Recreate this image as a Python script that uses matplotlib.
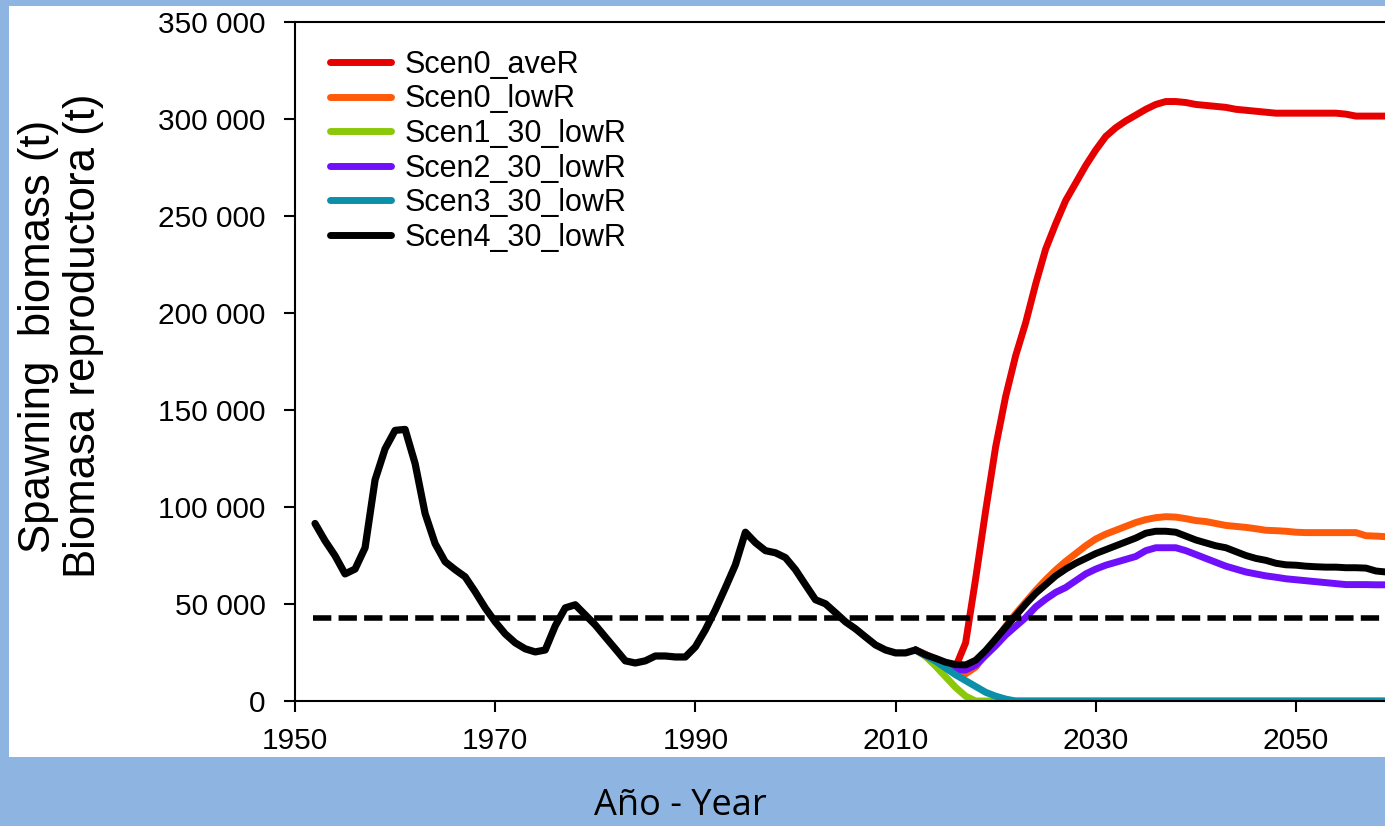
import matplotlib
matplotlib.use("Agg")
import matplotlib.pyplot as plt
from matplotlib.patches import Rectangle
from matplotlib.ticker import FuncFormatter

# historical spawning biomass (t), 1952-2012
hist_years = list(range(1952, 2013))
hist_ssb = [91500, 82600, 74900, 65500, 68000, 79000, 114000, 130000, 139500, 140000,
            122400, 96600, 81100, 71800, 67700, 64000, 56300, 48000, 40800, 34600,
            30000, 26900, 25300, 26300, 38700, 48000, 49600, 44400, 39200, 33000,
            26900, 20700, 19600, 20700, 23200, 23200, 22700, 22700, 27900, 36700,
            47000, 58400, 70200, 87000, 81600, 77500, 76400, 73900, 67700, 59900,
            52200, 50100, 45500, 40800, 37200, 33000, 28900, 26300, 24800, 24800,
            26300]

# projections 2013-2059
proj_years = list(range(2013, 2060))
scen0_aveR = [24000, 21500, 19000, 17500, 30000, 63000, 98000, 131000, 157000, 178000,
              195000, 215000, 233000, 246000, 258000, 267000, 276000, 284000, 291000, 295500,
              299000, 302000, 305000, 307500, 309000, 309000, 308500, 307500, 307000, 306500,
              306000, 305000, 304500, 304000, 303500, 303000, 303000, 303000, 303000, 303000,
              303000, 303000, 302500, 301500, 301500, 301500, 301500]
scen0_lowR = [24000, 21000, 18000, 15500, 14000, 17500, 24000, 31500, 38500, 45000,
              51000, 57000, 62500, 67500, 72000, 76000, 80000, 83500, 86000, 88000,
              90000, 92000, 93500, 94500, 95000, 94800, 94000, 93000, 92500, 91500,
              90500, 90000, 89500, 88800, 88000, 87800, 87500, 87000, 86800, 86800,
              86800, 86800, 86800, 86800, 85200, 85000, 84700]
scen1_30_lowR = [23000, 18000, 12500, 7000, 2500] + [0] * 42
scen2_30_lowR = [23500, 21000, 18000, 16000, 16000, 18500, 23500, 28500, 34000, 38500,
                 43000, 48500, 52500, 56000, 58500, 62000, 65500, 68000, 70000, 71500,
                 73000, 74500, 77500, 79000, 79000, 79000, 77500, 75500, 73500, 71500,
                 69500, 68000, 66500, 65500, 64500, 63800, 63000, 62500, 62000, 61500,
                 61000, 60500, 60000, 60000, 60000, 59900, 59900]
scen3_30_lowR = [23500, 20500, 17000, 13500, 10500, 7500, 4500, 2500, 1000] + [0] * 38
scen4_30_lowR = [23800, 22000, 20000, 18800, 18600, 21000, 26000, 32000, 38000, 44000,
                 50000, 55500, 60000, 64500, 68000, 71000, 73500, 76000, 78000, 80000,
                 82000, 84000, 86500, 87500, 87500, 87000, 85000, 83000, 81500, 80000,
                 79000, 77000, 75000, 73500, 72500, 71000, 70200, 70000, 69500, 69200,
                 69000, 69000, 68700, 68700, 68500, 67000, 66500]

scen_names = ["Scen0_aveR", "Scen0_lowR", "Scen1_30_lowR",
              "Scen2_30_lowR", "Scen3_30_lowR", "Scen4_30_lowR"]
scen_data = [scen0_aveR, scen0_lowR, scen1_30_lowR,
             scen2_30_lowR, scen3_30_lowR, scen4_30_lowR]
scen_colors = ["#e60000", "#ff5a0a", "#8cc80a", "#7010fa", "#0c8fa8", "black"]

blim = 43000

plt.rcParams["font.family"] = ["Liberation Sans", "DejaVu Sans"]

fig = plt.figure(figsize=(13.85, 8.26), dpi=100, facecolor="#8eb4e2")
fig.add_artist(Rectangle((9 / 1385, 1 - 757 / 826), 1.0, 751 / 826,
                         transform=fig.transFigure, facecolor="white",
                         edgecolor="none", zorder=0))

ax = fig.add_axes([295 / 1385, 1 - 701 / 826, 1 - 295 / 1385, 679 / 826])
ax.set_facecolor("none")

lw = 5.0
x_proj = [hist_years[-1]] + proj_years
for name, vals, col in zip(scen_names, scen_data, scen_colors):
    ax.plot(x_proj, [hist_ssb[-1]] + vals, color=col, lw=lw, label=name,
            solid_capstyle="round", solid_joinstyle="round")
ax.plot(hist_years, hist_ssb, color="black", lw=lw + 0.2,
        solid_capstyle="round", solid_joinstyle="round")
ax.plot([1951.8, 2060], [blim, blim], color="black", lw=4, dashes=(3.3, 1.3))

ax.set_xlim(1950, 2058.9)
ax.set_ylim(0, 350000)
ax.set_xticks([1950, 1970, 1990, 2010, 2030, 2050])
ax.set_yticks(range(0, 350001, 50000))
ax.yaxis.set_major_formatter(FuncFormatter(lambda v, p: f"{int(v):,}".replace(",", " ")))

for s in ["left", "bottom", "top"]:
    ax.spines[s].set_linewidth(1.5)
ax.spines["right"].set_visible(False)
ax.tick_params(axis="both", direction="out", length=8, width=1.5, labelsize=21.5)
ax.tick_params(axis="y", pad=13)
ax.tick_params(axis="x", pad=11)

leg = ax.legend(loc="upper left", bbox_to_anchor=(0.032, 0.959), frameon=False,
                fontsize=22, handlelength=2.0, handletextpad=0.45,
                labelspacing=0.15, borderpad=0, borderaxespad=0)

fig.text(61 / 1385, 1 - 336 / 826, "Spawning  biomass (t)\nBiomasa reproductora (t)",
         rotation=90, ha="center", va="center", multialignment="center",
         fontsize=31.5, linespacing=1.15)

fig.text(680 / 1385, 0.003, "Año - Year", ha="center", va="bottom",
         fontsize=26, family=["Open Sans", "DejaVu Sans"])

fig.savefig("out.png", dpi=100, facecolor=fig.get_facecolor())
